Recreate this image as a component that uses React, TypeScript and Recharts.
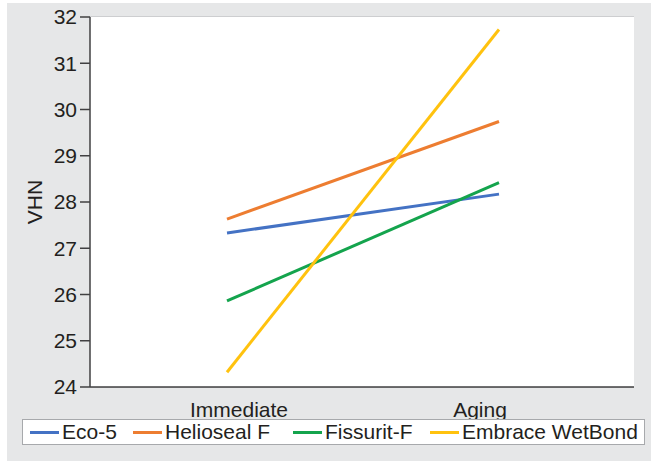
import { LineChart, Line, XAxis, YAxis, CartesianGrid, Legend } from "recharts";

const stages = ["Immediate", "Aging"];
const eco5 = [27.33, 28.17];
const helioseal = [27.63, 29.74];
const fissurit = [25.86, 28.42];
const embrace = [24.32, 31.73];
const yTicks = [24, 25, 26, 27, 28, 29, 30, 31, 32];

const series = [
  { key: "Eco-5", color: "#4472c4", values: eco5 },
  { key: "Helioseal F", color: "#ed7d31", values: helioseal },
  { key: "Fissurit-F", color: "#14a44d", values: fissurit },
  { key: "Embrace WetBond", color: "#ffc20e", values: embrace },
];

const data = stages.map((stage, i) => {
  const row: any = { stage };
  series.forEach(s => {
    row[s.key] = s.values[i];
  });
  return row;
});

const textColor = "#231f20";
const axisColor = "#414042";
const fontSize = 21;
// legend item offsets inside the box (the original spacing is uneven)
const legendOffsets = [7, 110, 270, 407];

// labels in the original sit a bit inward of the line ends
const XTick = ({ x, y, payload, index }: any) => (
  <text x={x + (index === 0 ? 12 : -19)} y={y} dy="0.71em" textAnchor="middle" fill={textColor} fontSize={fontSize}>
    {payload.value}
  </text>
);

const YLabel = ({ viewBox }: any) => {
  const cx = viewBox.x + 4;
  const cy = viewBox.y + viewBox.height / 2;
  return (
    <text x={cx} y={cy} textAnchor="middle" dominantBaseline="central" fill={textColor} fontSize={fontSize} transform={`rotate(-90, ${cx}, ${cy})`}>
      VHN
    </text>
  );
};

const LegendBox = () => (
  <div
    style={{
      position: "relative",
      height: 26,
      background: "#fff",
      border: "1px solid #a7a9ac",
      boxSizing: "border-box",
      fontSize: fontSize,
      color: textColor,
      whiteSpace: "nowrap",
    }}
  >
    {series.map((s, i) => (
      <div key={s.key} style={{ position: "absolute", left: legendOffsets[i], top: 0, height: 24, display: "flex", alignItems: "center" }}>
        <div style={{ width: 29, height: 3, background: s.color, marginRight: 3 }} />
        <span>{s.key}</span>
      </div>
    ))}
  </div>
);

export default function App() {
  return (
    <div style={{ position: "absolute", left: 0, top: 0, width: 651, height: 463, background: "#fff", fontFamily: "'Liberation Sans', Arial, sans-serif" }}>
      <div style={{ position: "absolute", left: 7, top: 3, width: 644, height: 458, background: "#e6e7e8" }} />
      <LineChart
        width={651}
        height={463}
        data={data}
        margin={{ top: 17, right: 17, bottom: 46, left: 30 }}
        style={{ position: "absolute", left: 0, top: 0 }}
      >
        <rect x={90} y={17} width={544} height={370} fill="#fff" />
        <CartesianGrid vertical={false} stroke="#c4c6c8" strokeWidth={1.5} />
        <XAxis
          dataKey="stage"
          type="category"
          scale="point"
          padding={{ left: 137, right: 135 }}
          tickLine={false}
          axisLine={{ stroke: axisColor, strokeWidth: 1.5 }}
          tick={<XTick />}
          tickMargin={9}
          height={30}
        />
        <XAxis xAxisId="top" orientation="top" dataKey="stage" height={0} tick={false} tickLine={false} axisLine={{ stroke: axisColor, strokeWidth: 1.5 }} />
        <YAxis
          domain={[24, 32]}
          ticks={yTicks}
          tickSize={10}
          tickMargin={3}
          width={60}
          tick={{ fill: textColor, fontSize: fontSize }}
          tickLine={{ stroke: axisColor, strokeWidth: 1.5 }}
          axisLine={{ stroke: axisColor, strokeWidth: 1.5 }}
          label={<YLabel />}
        />
        <YAxis yAxisId="right" orientation="right" domain={[24, 32]} width={0} tick={false} tickLine={false} axisLine={{ stroke: axisColor, strokeWidth: 1.5 }} />
        <Legend
          layout="horizontal"
          verticalAlign="middle"
          content={<LegendBox />}
          wrapperStyle={{ position: "absolute", left: 22, top: 419, width: 623, height: 26 }}
        />
        {series.map(s => (
          <Line
            key={s.key}
            dataKey={s.key}
            stroke={s.color}
            strokeWidth={3}
            dot={false}
            isAnimationActive={false}
          />
        ))}
      </LineChart>
    </div>
  );
}
